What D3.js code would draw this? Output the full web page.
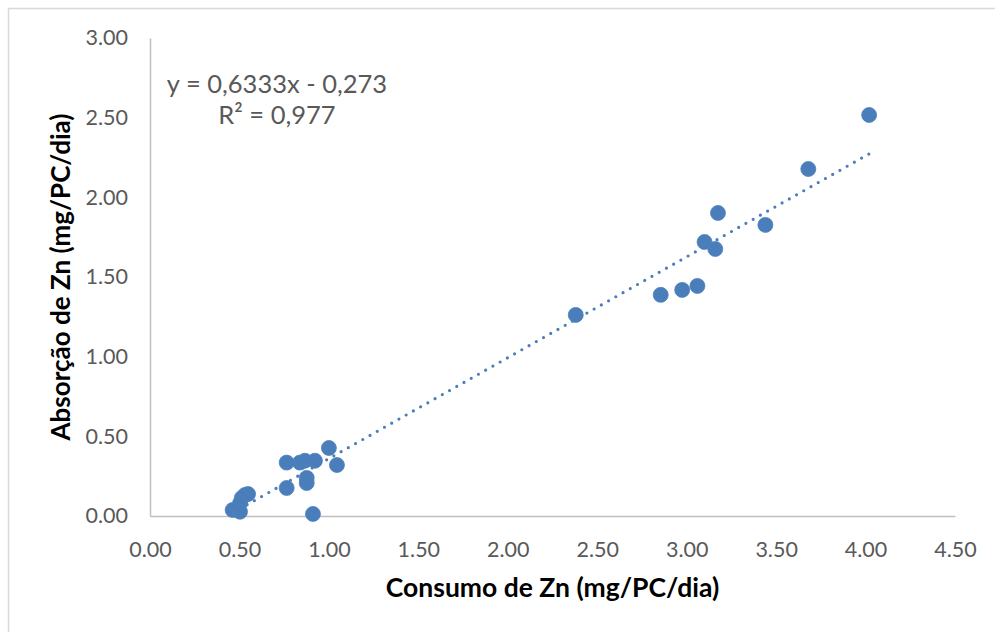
<!DOCTYPE html>
<html>
<head>
<meta charset="utf-8">
<script src="https://cdn.jsdelivr.net/npm/d3@7"></script>
<style>
  html, body { margin: 0; padding: 0; background: #fff; }
  svg { display: block; font-family: Lato, "Open Sans", sans-serif; }
</style>
</head>
<body>
<script>
// consumo (x) e absorção (y) de Zn, mg/PC/dia
const consumo = [4.02, 3.68, 3.175, 3.44, 3.10, 3.16, 3.06, 2.975, 2.855, 2.38,
  1.00, 1.045, 0.922, 0.866, 0.838, 0.764, 0.876, 0.876, 0.764,
  0.531, 0.548, 0.513, 0.503, 0.462, 0.503, 0.911];
const absorcao = [2.517, 2.178, 1.902, 1.827, 1.720, 1.676, 1.444, 1.419, 1.388, 1.262,
  0.427, 0.320, 0.347, 0.347, 0.335, 0.335, 0.239, 0.207, 0.176,
  0.132, 0.138, 0.113, 0.080, 0.038, 0.027, 0.013];
const slope = 0.6333;
const intercept = -0.273;
const xTicks = [0, 0.5, 1, 1.5, 2, 2.5, 3, 3.5, 4, 4.5];
const yTicks = [0, 0.5, 1, 1.5, 2, 2.5, 3];

const width = 995, height = 632;
const margin = { left: 150, right: 40, top: 38, bottom: 116 };

const svg = d3.select("body").append("svg")
  .attr("width", width)
  .attr("height", height);

// chart area border
svg.append("rect")
  .attr("x", 8.5).attr("y", 8.5)
  .attr("width", width + 10).attr("height", height + 10)
  .attr("fill", "none")
  .attr("stroke", "#d9d9d9")
  .attr("stroke-width", 1.5);

const x = d3.scaleLinear().domain([0, 4.5]).range([margin.left, width - margin.right]);
const y = d3.scaleLinear().domain([0, 3]).range([height - margin.bottom, margin.top]);

const xAxis = svg.append("g")
  .attr("transform", `translate(0,${y(0)})`)
  .call(d3.axisBottom(x).tickValues(xTicks).tickFormat(d3.format(".2f")).tickSize(0).tickPadding(26));
const yAxis = svg.append("g")
  .attr("transform", `translate(${x(0)},0)`)
  .call(d3.axisLeft(y).tickValues(yTicks).tickFormat(d3.format(".2f")).tickSize(0).tickPadding(22));

[xAxis, yAxis].forEach(g => {
  g.select(".domain").attr("stroke", "#bfbfbf").attr("stroke-width", 1.5);
  g.selectAll("text").attr("fill", "#595959").attr("font-size", 21.5)
    .attr("font-family", "Lato, 'Open Sans', sans-serif");
});

// trendline
const xs = d3.extent(consumo);
svg.append("line")
  .attr("x1", x(xs[0])).attr("y1", y(slope * xs[0] + intercept))
  .attr("x2", x(xs[1])).attr("y2", y(slope * xs[1] + intercept))
  .attr("stroke", "#4a7ebb")
  .attr("stroke-width", 3.2)
  .attr("stroke-linecap", "round")
  .attr("stroke-dasharray", "0,8.3");

svg.append("g").selectAll("circle")
  .data(consumo.map((c, i) => [c, absorcao[i]]))
  .join("circle")
  .attr("cx", d => x(d[0]))
  .attr("cy", d => y(d[1]))
  .attr("r", 7.5)
  .attr("fill", "#4a7ebb")
  .attr("stroke", "#4f81bd")
  .attr("stroke-width", 0.8);

// equation label
const eq = svg.append("text")
  .attr("text-anchor", "middle")
  .attr("fill", "#595959")
  .attr("font-size", 25.5);
eq.append("tspan").attr("x", 277).attr("y", 93).text("y = 0,6333x - 0,273");
eq.append("tspan").attr("x", 277).attr("y", 124).text("R² = 0,977");

svg.append("text")
  .attr("x", (x(0) + x(4.5)) / 2)
  .attr("y", 597)
  .attr("text-anchor", "middle")
  .attr("font-weight", "bold")
  .attr("font-size", 26.5)
  .attr("fill", "#000")
  .text("Consumo de Zn (mg/PC/dia)");

svg.append("text")
  .attr("transform", `translate(70,${(y(0) + y(3)) / 2}) rotate(-90)`)
  .attr("text-anchor", "middle")
  .attr("font-weight", "bold")
  .attr("font-size", 26)
  .attr("fill", "#000")
  .text("Absorção de Zn (mg/PC/dia)");
</script>
</body>
</html>
